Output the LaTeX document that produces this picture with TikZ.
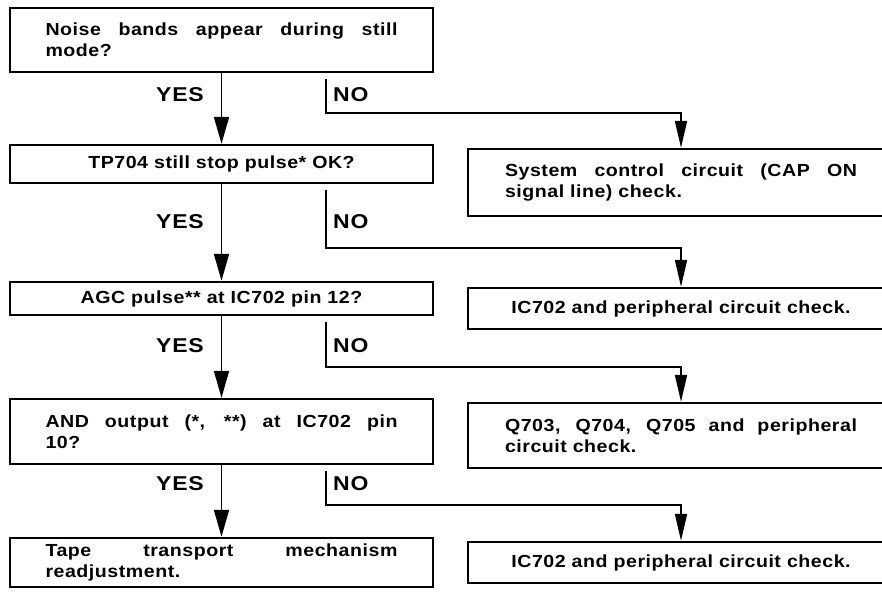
\documentclass[tikz,border=0pt]{standalone}
\usepackage{fontspec}
\usetikzlibrary{arrows.meta}
\newfontfamily\boxfont{Liberation Sans}[FakeStretch=1.12, LetterSpace=3]
\newfontfamily\lblfont{Liberation Sans}[FakeStretch=1.15, LetterSpace=4]

% a line spread to the full text width (its spaces stretch evenly)
\newcommand\fullline[1]{\hbox to \hsize{\spaceskip=0.28em plus 1fil\relax #1}}

\tikzset{
  box/.style={draw, line width=2.4pt, inner sep=0pt, minimum width=423pt,
    font=\boxfont\bfseries\fontsize{17.5}{21}\selectfont},
  rbox/.style={box, minimum width=426pt},
  onel/.style={align=center},
  twol/.style={align=left, text width=352pt},
  lbl/.style={font=\lblfont\bfseries\fontsize{20}{22}\selectfont, inner sep=0pt},
  yesflow/.style={line width=1.8pt, -{Triangle[length=27pt,width=15pt]}},
  noflow/.style={line width=1.8pt, -{Triangle[length=27pt,width=12pt]}, shorten <=6pt},
}

\begin{document}
\begin{tikzpicture}[x=1pt,y=-1pt]
\clip (0,0) rectangle (882,605);

% question boxes (left column)
\node[box, twol, minimum height=64pt] (q1) at (221.5,40)
  {\fullline{Noise bands appear during still}\\mode?};
\node[box, onel, minimum height=38pt] (q2) at (221.5,164)
  {TP704 still stop pulse* OK?};
\node[box, onel, minimum height=33pt] (q3) at (221.5,298.5)
  {AGC pulse** at IC702 pin 12?};
\node[box, twol, minimum height=65pt] (q4) at (221.5,431.5)
  {\fullline{AND output (*, **) at IC702 pin}\\10?};
\node[box, twol, minimum height=49pt] (a1) at (221.5,562.5)
  {\fullline{Tape transport mechanism}\\readjustment.};

% check boxes (right column)
\node[rbox, twol, minimum height=67pt] (r1) at (681,182.5)
  {\fullline{System control circuit (CAP ON}\\signal line) check.};
\node[rbox, onel, minimum height=41pt] (r2) at (681,308.5)
  {IC702 and peripheral circuit check.};
\node[rbox, twol, minimum height=65pt] (r3) at (681,435.5)
  {\fullline{Q703, Q704, Q705 and peripheral}\\circuit check.};
\node[rbox, onel, minimum height=41pt] (r4) at (681,562.5)
  {IC702 and peripheral circuit check.};

% branch labels
\node[lbl, anchor=east] (y1) at (204,95) {YES};
\node[lbl, anchor=west] (n1) at (333,95) {NO};
\node[lbl, anchor=east] (y2) at (204,221.5) {YES};
\node[lbl, anchor=west] (n2) at (333,221.5) {NO};
\node[lbl, anchor=east] (y3) at (204,345.5) {YES};
\node[lbl, anchor=west] (n3) at (333,345.5) {NO};
\node[lbl, anchor=east] (y4) at (204,484) {YES};
\node[lbl, anchor=west] (n4) at (333,484) {NO};

% YES branches
\draw[yesflow] (q1.south) -- (q2.north);
\draw[yesflow] (q2.south) -- (q3.north);
\draw[yesflow] (q3.south) -- (q4.north);
\draw[yesflow] (q4.south) -- (a1.north);

% NO branches
\coordinate (nx) at (326,0);
\coordinate (h1) at (0,113);
\coordinate (h2) at (0,248);
\coordinate (h3) at (0,367);
\coordinate (h4) at (0,505);
\draw[noflow] (q1.south -| nx) |- (r1.north |- h1) -- (r1.north);
\draw[noflow] (q2.south -| nx) |- (r2.north |- h2) -- (r2.north);
\draw[noflow] (q3.south -| nx) |- (r3.north |- h3) -- (r3.north);
\draw[noflow] (q4.south -| nx) |- (r4.north |- h4) -- (r4.north);
\end{tikzpicture}
\end{document}
